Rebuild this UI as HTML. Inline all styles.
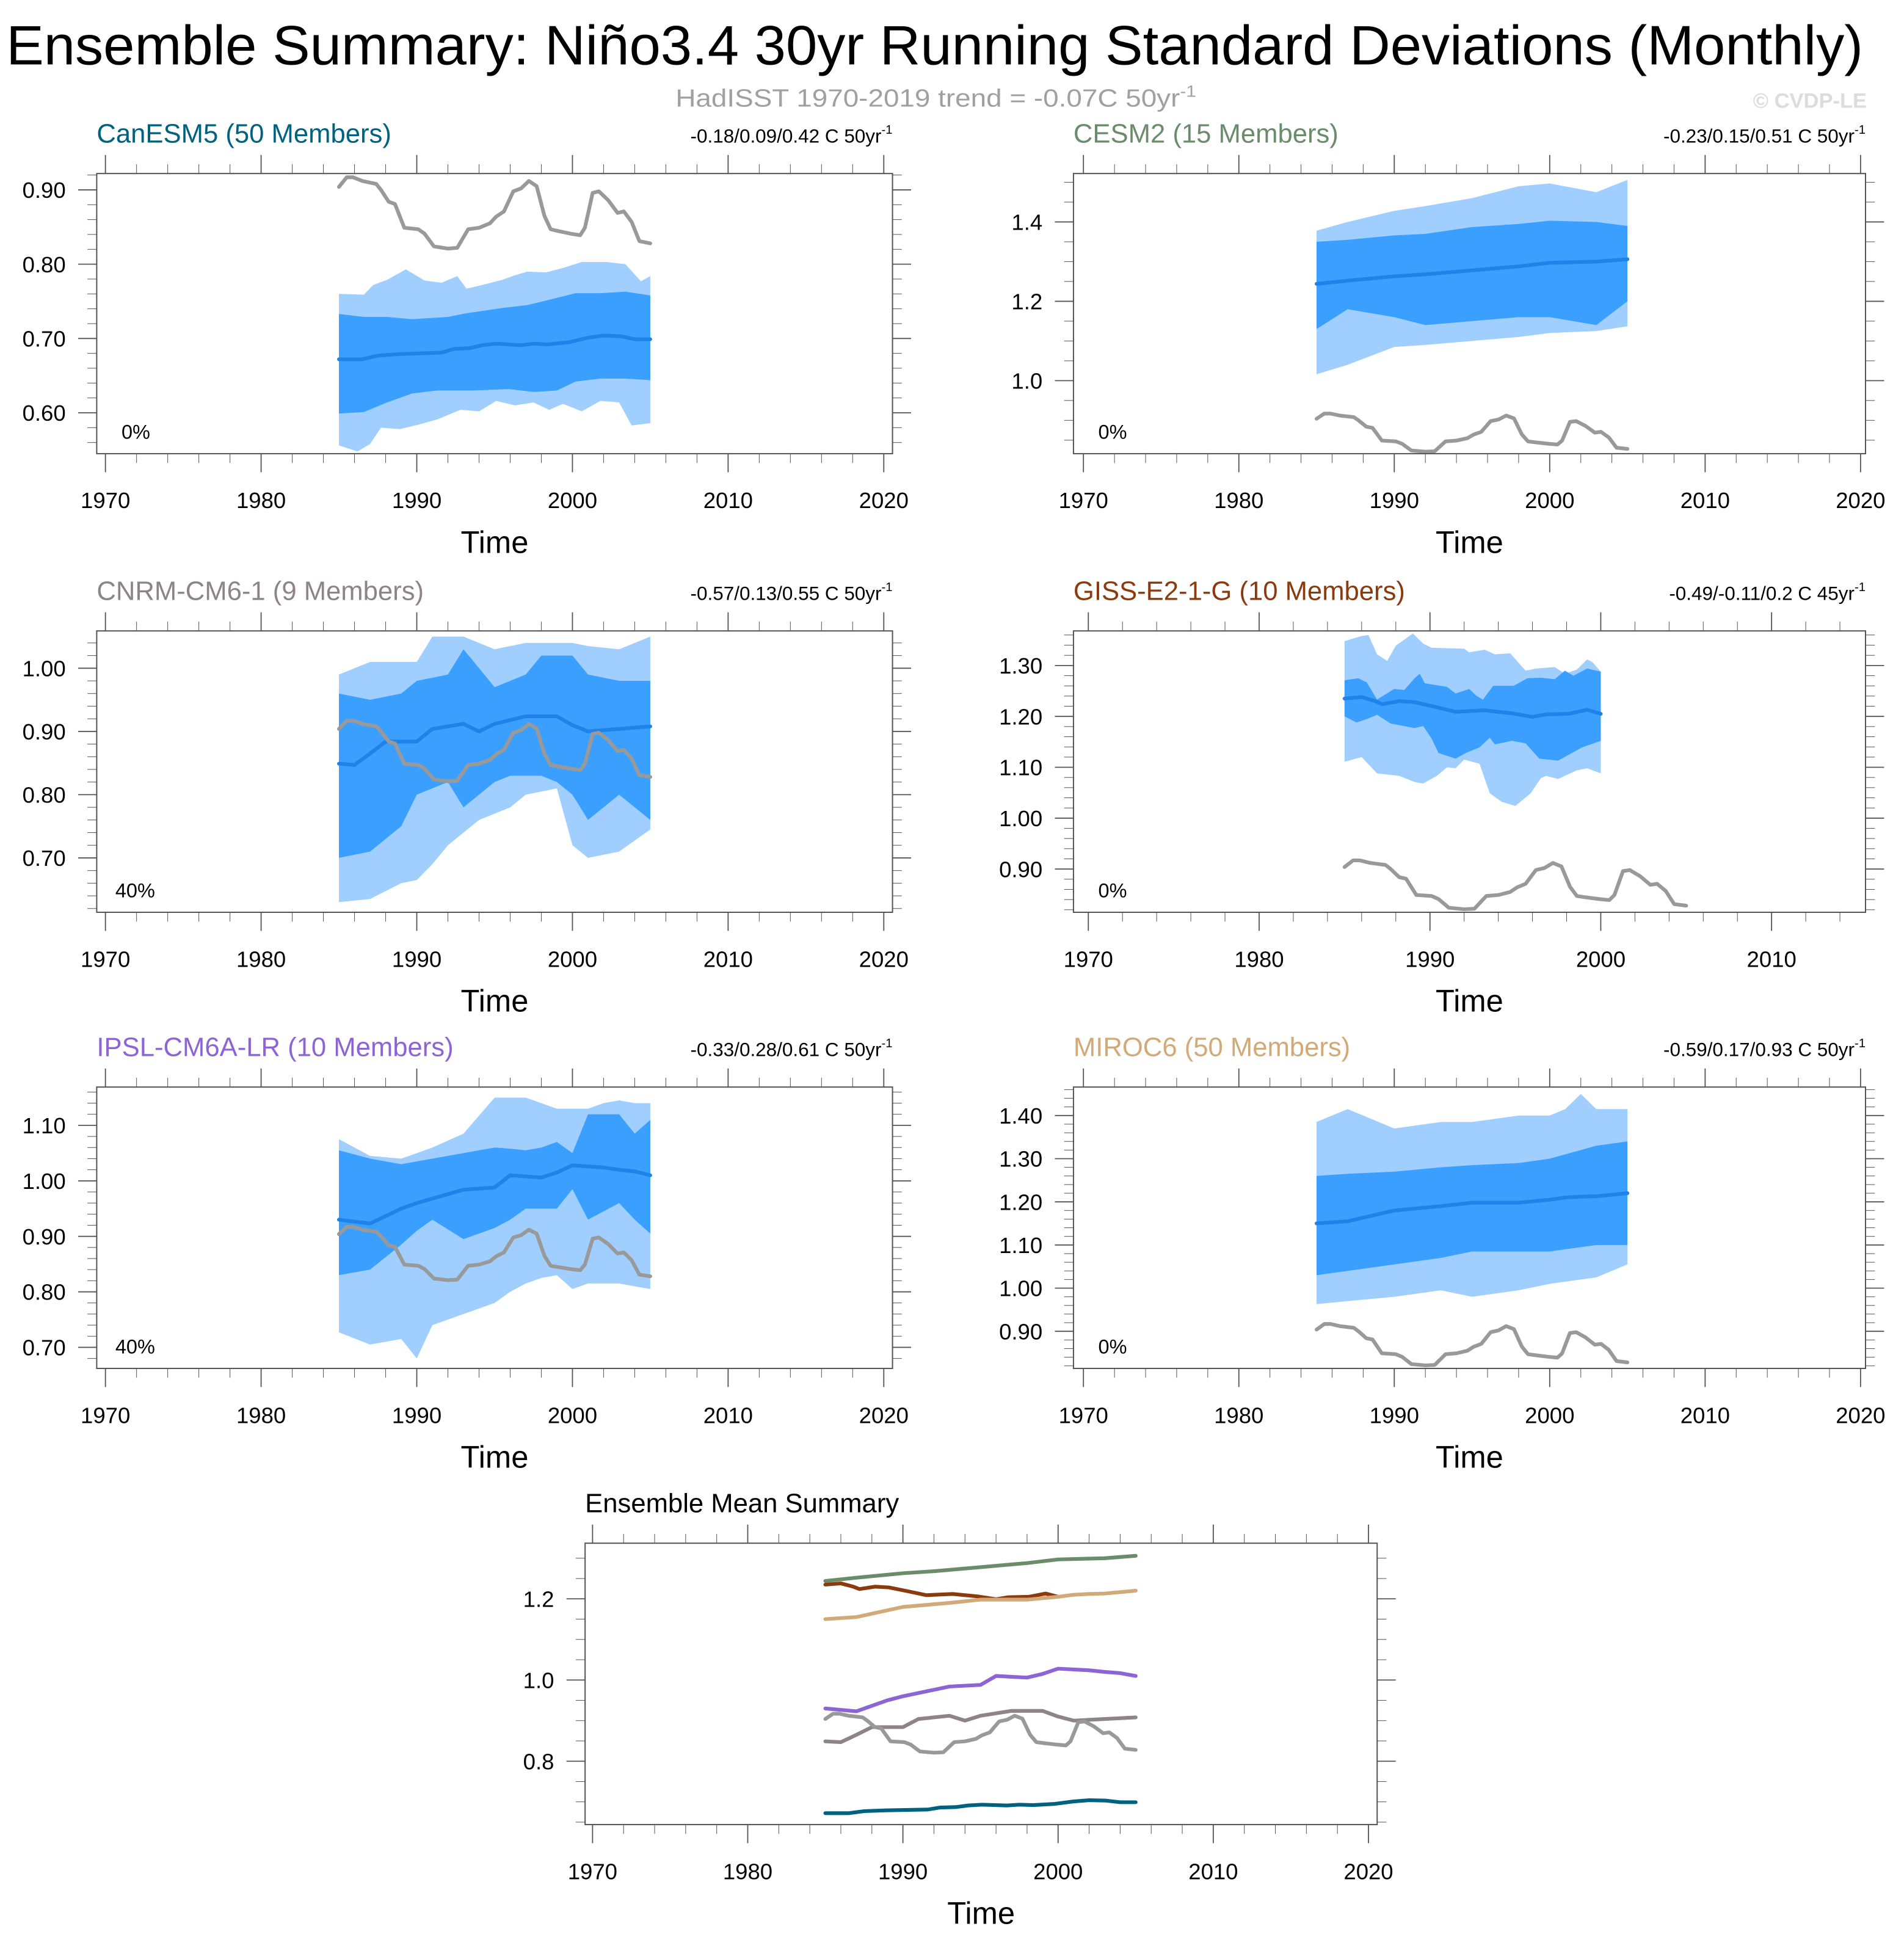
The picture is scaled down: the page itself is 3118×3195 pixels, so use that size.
<!DOCTYPE html>
<html><head><meta charset="utf-8"><title>Ensemble Summary</title>
<style>html,body{margin:0;padding:0;background:#fff}svg{display:block}text{font-family:"Liberation Sans",sans-serif}</style>
</head><body>
<svg id="fig" xmlns="http://www.w3.org/2000/svg" width="3118" height="3195" viewBox="0 0 1536 1574">
<text x="5" y="52" font-size="45" textLength="1498" lengthAdjust="spacingAndGlyphs">Ensemble Summary: Niño3.4 30yr Running Standard Deviations (Monthly)</text>
<text x="545" y="86" font-size="20" fill="#a0a0a0" textLength="420" lengthAdjust="spacingAndGlyphs">HadISST 1970-2019 trend = -0.07C 50yr<tspan dy="-8" font-size="13">-1</tspan></text>
<text x="1506" y="87" font-size="17" fill="#dcdcdc" font-weight="bold" text-anchor="end">© CVDP-LE</text>
</svg>
<script>
// ---------- data ----------
const obsYears=[1985,1985.5,1985.9,1986.5,1987.4,1987.7,1988.2,1988.6,1989.2,1990.1,1990.5,1991.1,1992.0,1992.6,1993.3,1994.0,1994.7,1995.1,1995.6,1996.2,1996.7,1997.2,1997.7,1998.2,1998.6,1999.0,1999.9,2000.5,2000.8,2001.3,2001.7,2002.3,2002.9,2003.3,2003.8,2004.3,2005.0];
const obsValues=[0.904,0.917,0.917,0.912,0.908,0.900,0.884,0.881,0.849,0.847,0.841,0.824,0.821,0.822,0.847,0.849,0.855,0.864,0.871,0.898,0.902,0.912,0.905,0.865,0.847,0.845,0.841,0.839,0.849,0.896,0.898,0.886,0.869,0.871,0.857,0.831,0.828];

// CanESM5
const canMeanYears=[1985,1986.5,1987.5,1988.9,1991.6,1992.4,1993.4,1994.2,1995.1,1996.7,1997.5,1998.4,1999.8,2001,2002,2003.1,2004,2005];
const canMean=[0.672,0.672,0.677,0.679,0.681,0.686,0.687,0.691,0.693,0.691,0.693,0.692,0.695,0.701,0.704,0.703,0.699,0.699];
const canDarkUpYears=[1985,1986.6,1988.1,1989.7,1992,1993.2,1995.5,1997.1,1998.3,2000.2,2001.8,2003.4,2005];
const canDarkUp=[0.733,0.729,0.729,0.726,0.729,0.734,0.741,0.745,0.751,0.761,0.761,0.763,0.758];
const canDarkLoYears=[1985,1986.6,1988.1,1989.7,1991.3,1993.6,1995.9,1997.5,1999,2000.2,2001.8,2003.4,2005];
const canDarkLo=[0.599,0.601,0.614,0.626,0.630,0.630,0.632,0.628,0.630,0.642,0.646,0.646,0.644];
const canLightUpYears=[1985,1986.6,1987.2,1988.1,1989.3,1990.5,1991.6,1992.6,1993.2,1994.4,1995.5,1996.3,1997.1,1998.3,1999.4,2000.6,2002.2,2003.4,2004.4,2005];
const canLightUp=[0.760,0.759,0.772,0.779,0.793,0.778,0.775,0.784,0.767,0.773,0.779,0.785,0.790,0.789,0.795,0.803,0.803,0.800,0.777,0.784];
const canLightLoYears=[1985,1986.2,1987,1987.7,1988.9,1990.1,1991.3,1992.8,1994,1995.1,1996.3,1997.5,1998.5,1999.4,2000.6,2001.8,2003,2003.8,2005];
const canLightLo=[0.556,0.548,0.558,0.580,0.578,0.584,0.591,0.604,0.602,0.616,0.610,0.614,0.604,0.612,0.602,0.616,0.614,0.583,0.586];

// CESM2
const cesmYears=[1985,1987,1990,1992,1995,1998,2000,2003,2005];
const cesmMean=[1.244,1.252,1.263,1.268,1.278,1.288,1.297,1.300,1.306];
const cesmDarkUp=[1.35,1.355,1.366,1.37,1.387,1.395,1.403,1.40,1.39];
const cesmDarkLo=[1.13,1.18,1.16,1.14,1.15,1.16,1.16,1.14,1.20];
const cesmLightUp=[1.378,1.40,1.428,1.44,1.46,1.49,1.497,1.475,1.506];
const cesmLightLo=[1.016,1.04,1.085,1.09,1.10,1.11,1.12,1.125,1.137];

// CNRM-CM6-1
const cnrmMeanYears=[1985,1986,1987,1988,1990,1991,1993,1994,1995,1997,1999,2000,2001,2005];
const cnrmMean=[0.849,0.847,0.865,0.884,0.884,0.904,0.912,0.900,0.912,0.924,0.924,0.910,0.900,0.908];
const cnrmBandYears=[1985,1987,1989,1990,1991,1992,1993,1994,1995,1996,1997,1998,1999,2000,2001,2003,2005];
const cnrmDarkUp=[0.96,0.95,0.96,0.98,0.985,0.99,1.03,1.0,0.97,0.98,0.99,1.02,1.02,1.02,0.99,0.98,0.98];
const cnrmDarkLo=[0.70,0.71,0.75,0.80,0.81,0.82,0.78,0.80,0.82,0.83,0.83,0.83,0.82,0.80,0.76,0.80,0.76];
const cnrmLightUp=[0.99,1.01,1.01,1.01,1.05,1.05,1.05,1.04,1.03,1.035,1.04,1.04,1.04,1.04,1.035,1.03,1.05];
const cnrmLightLo=[0.63,0.635,0.66,0.665,0.69,0.72,0.74,0.76,0.77,0.78,0.80,0.805,0.81,0.72,0.70,0.71,0.745];

// GISS-E2-1-G
const gissLightUpYears=[1985,1986,1986.4,1986.9,1987.5,1988,1989,1989.6,1990.1,1992,1992.3,1993.2,1993.8,1994.7,1995.3,1995.6,1996.2,1997.3,1997.9,1998.6,1999.2,1999.5,2000];
const gissLightUp=[1.348,1.358,1.36,1.322,1.309,1.339,1.363,1.343,1.335,1.333,1.326,1.331,1.322,1.324,1.301,1.29,1.294,1.297,1.284,1.292,1.312,1.307,1.288];
const gissDarkUpYears=[1985,1985.8,1986.3,1986.9,1987.9,1988.5,1989.1,1989.4,1989.7,1991,1991.5,1992.3,1992.7,1993.1,1993.7,1994.2,1994.9,1995.7,1996.5,1997.3,1997.9,1998.4,1999.2,2000];
const gissDarkUp=[1.271,1.275,1.267,1.233,1.254,1.252,1.275,1.284,1.265,1.258,1.245,1.254,1.241,1.233,1.26,1.26,1.26,1.275,1.276,1.273,1.29,1.28,1.294,1.288];
const gissMeanYears=[1985,1986,1986.8,1987.2,1988.2,1989.1,1990.4,1991.5,1993.2,1994.8,1996,1996.8,1998.1,1999.2,2000];
const gissMean=[1.235,1.238,1.23,1.224,1.23,1.228,1.218,1.209,1.212,1.206,1.199,1.204,1.205,1.213,1.205];
const gissDarkLoYears=[1985,1985.7,1986.4,1986.9,1987.7,1988,1989.1,1989.6,1990.1,1990.5,1991.5,1992.1,1992.9,1993.5,1993.8,1994.8,1995.6,1996.4,1997.5,1998.2,1998.9,2000];
const gissDarkLo=[1.2,1.188,1.196,1.203,1.186,1.184,1.177,1.181,1.156,1.128,1.117,1.128,1.139,1.158,1.145,1.152,1.147,1.117,1.113,1.126,1.139,1.152];
const gissLightLoYears=[1985,1986,1986.9,1988.2,1989.1,1989.6,1990.4,1991,1991.5,1992,1992.9,1993.5,1994.2,1995,1995.9,1996.5,1996.8,1997.5,1998.6,1999.2,2000];
const gissLightLo=[1.111,1.12,1.088,1.083,1.071,1.068,1.083,1.1,1.098,1.115,1.107,1.049,1.032,1.024,1.049,1.079,1.083,1.077,1.094,1.098,1.088];

// IPSL-CM6A-LR
const ipslYears=[1985,1987,1989,1990,1991,1993,1995,1996,1997,1998,1999,2000,2001,2002,2003,2004,2005];
const ipslMean=[0.93,0.923,0.95,0.96,0.968,0.984,0.988,1.01,1.008,1.006,1.015,1.028,1.026,1.024,1.02,1.017,1.01];
const ipslDarkUp=[1.055,1.04,1.03,1.035,1.04,1.05,1.06,1.058,1.055,1.06,1.07,1.05,1.12,1.12,1.12,1.085,1.11];
const ipslDarkLo=[0.83,0.84,0.885,0.91,0.93,0.895,0.915,0.93,0.95,0.95,0.95,0.985,0.93,0.945,0.96,0.93,0.905];
const ipslLightUp=[1.075,1.045,1.04,1.05,1.06,1.085,1.15,1.15,1.15,1.14,1.13,1.13,1.13,1.14,1.145,1.14,1.14];
const ipslLightLo=[0.727,0.705,0.715,0.68,0.74,0.76,0.78,0.80,0.815,0.825,0.83,0.805,0.815,0.815,0.815,0.81,0.805];

// MIROC6
const mirocYears=[1985,1987,1990,1993,1995,1998,2000,2001,2002,2003,2005];
const mirocMean=[1.15,1.155,1.18,1.19,1.198,1.198,1.205,1.21,1.212,1.213,1.22];
const mirocDarkUp=[1.26,1.265,1.27,1.28,1.285,1.29,1.30,1.31,1.32,1.33,1.34];
const mirocDarkLo=[1.03,1.04,1.055,1.07,1.085,1.085,1.085,1.09,1.095,1.10,1.10];
const mirocLightUp=[1.385,1.415,1.37,1.385,1.385,1.40,1.40,1.415,1.45,1.415,1.415];
const mirocLightLo=[0.963,0.97,0.98,0.995,0.98,0.995,1.01,1.015,1.02,1.025,1.055];

const panelTitles=["CanESM5 (50 Members)","CESM2 (15 Members)","CNRM-CM6-1 (9 Members)","GISS-E2-1-G (10 Members)","IPSL-CM6A-LR (10 Members)","MIROC6 (50 Members)"];
const trendLabels=["-0.18/0.09/0.42 C 50yr","-0.23/0.15/0.51 C 50yr","-0.57/0.13/0.55 C 50yr","-0.49/-0.11/0.2 C 45yr","-0.33/0.28/0.61 C 50yr","-0.59/0.17/0.93 C 50yr"];
const pctLabels=["0%","0%","40%","0%","40%","0%"];
const modelColors=["#00627f","#6b8c6b","#8e8487","#8b3a0e","#8c64d6","#d2aa7a"];
const yTicksMajor=[[0.6,0.7,0.8,0.9],[1.0,1.2,1.4],[0.7,0.8,0.9,1.0],[0.9,1.0,1.1,1.2,1.3],[0.7,0.8,0.9,1.0,1.1],[0.9,1.0,1.1,1.2,1.3,1.4]];
const summaryYTicks=[0.8,1.0,1.2];
const xTickLabels=[1970,1980,1990,2000,2010,2020];

// ---------- drawing ----------
const NS="http://www.w3.org/2000/svg";
const svg=document.getElementById('fig');
function mk(tag,attrs,parent){const e=document.createElementNS(NS,tag);for(const k in attrs)e.setAttribute(k,attrs[k]);(parent||svg).appendChild(e);return e;}

function panel(p){
  const g=mk('g',{});
  
  
  const sx=v=>p.x0+(v-p.xmin)/(p.xmax-p.xmin)*(p.x1-p.x0);
  const sy=v=>p.y1-(v-p.ymin)/(p.ymax-p.ymin)*(p.y1-p.y0);
  const area=(xu,u,xl,l,fill,nm)=>{
    let d='M'+xu.map((x,i)=>sx(x).toFixed(2)+','+sy(u[i]).toFixed(2)).join('L');
    for(let i=xl.length-1;i>=0;i--)d+='L'+sx(xl[i]).toFixed(2)+','+sy(l[i]).toFixed(2);
    const a=mk('path',{d:d+'Z',fill:fill},g);
    
    
  };
  const line=(xs,ys,col,w,nm)=>{
    const l=mk('path',{d:'M'+xs.map((x,i)=>sx(x).toFixed(2)+','+sy(ys[i]).toFixed(2)).join('L'),fill:'none',stroke:col,'stroke-width':w,'stroke-linejoin':'round','stroke-linecap':'round'},g);
    
    
  };
  if(p.bands){
    const b=p.bands;
    area(b.luX,b.lu,b.llX,b.ll,'#a0cfff','minmax-band');
    area(b.duX,b.du,b.dlX,b.dl,'#3a9fff','percentile-band');
  }
  if(p.lines)p.lines.forEach(L=>line(L.x,L.y,L.c,L.w,L.n));
  const fr=mk('rect',{x:p.x0,y:p.y0,width:p.x1-p.x0,height:p.y1-p.y0,fill:'none',stroke:'#555','stroke-width':1},g);
  
  
  for(let yr=1970;yr<=p.xmax;yr+=2){
    const X=sx(yr);const maj=(yr%10===0);const L=maj?15:7.5;
    mk('line',{x1:X,x2:X,y1:p.y0,y2:p.y0-L,stroke:'#555','stroke-width':maj?0.9:0.5},g);
    mk('line',{x1:X,x2:X,y1:p.y1,y2:p.y1+L,stroke:'#555','stroke-width':maj?0.9:0.5},g);
  }
  xTickLabels.forEach(yr=>{if(yr>p.xmax)return;
    const t=mk('text',{x:sx(yr),y:p.y1+44,'font-size':18,'text-anchor':'middle'},g);t.textContent=yr;
    
    });
  const minor=p.minor;
  for(let v=Math.ceil(p.ymin/minor-1e-6)*minor;v<=p.ymax+1e-9;v+=minor){
    const Y=sy(v);const maj=p.yMaj.some(m=>Math.abs(m-v)<1e-6);const L=maj?15:7.5;
    mk('line',{x1:p.x0,x2:p.x0-L,y1:Y,y2:Y,stroke:'#555','stroke-width':maj?0.9:0.5},g);
    mk('line',{x1:p.x1,x2:p.x1+L,y1:Y,y2:Y,stroke:'#555','stroke-width':maj?0.9:0.5},g);
  }
  p.yMaj.forEach(v=>{const t=mk('text',{x:p.x0-25,y:sy(v)+6.5,'font-size':18,'text-anchor':'end'},g);t.textContent=v.toFixed(p.dec);
    
    });
  const xt=mk('text',{x:(p.x0+p.x1)/2,y:p.y1+80,'font-size':25,'text-anchor':'middle'},g);xt.textContent='Time';
  
  
  const tt=mk('text',{x:p.x0,y:p.y0-25,'font-size':21.5,fill:p.tcol},g);tt.textContent=p.title;
  
  
  if(p.trend){
    const tr=mk('text',{x:p.x1,y:p.y0-25,'font-size':15.5,'text-anchor':'end'},g);tr.textContent=p.trend;
    const sp=mk('tspan',{dy:-7,'font-size':10},tr);sp.textContent='-1';
    
    
  }
  if(p.pct){
    const pc=mk('text',{x:p.x0+(p.pct.length>2?15:20),y:p.y1-12,'font-size':16},g);pc.textContent=p.pct;
    
    
  }
}

const cols=[{x0:78,x1:720,xmin:1969.44,xmax:2020.56},{x0:866,x1:1505,xmin:1969.36,xmax:2020.32}];
const rows=[{y0:140,y1:366},{y0:509,y1:736},{y0:877,y1:1104}];
const yr=[[0.545,0.922],[0.816,1.522],[0.614,1.059],[0.815,1.368],[0.662,1.169],[0.814,1.466]];
const bandSets=[
 {luX:canLightUpYears,lu:canLightUp,llX:canLightLoYears,ll:canLightLo,duX:canDarkUpYears,du:canDarkUp,dlX:canDarkLoYears,dl:canDarkLo,mX:canMeanYears,m:canMean},
 {luX:cesmYears,lu:cesmLightUp,llX:cesmYears,ll:cesmLightLo,duX:cesmYears,du:cesmDarkUp,dlX:cesmYears,dl:cesmDarkLo,mX:cesmYears,m:cesmMean},
 {luX:cnrmBandYears,lu:cnrmLightUp,llX:cnrmBandYears,ll:cnrmLightLo,duX:cnrmBandYears,du:cnrmDarkUp,dlX:cnrmBandYears,dl:cnrmDarkLo,mX:cnrmMeanYears,m:cnrmMean},
 {luX:gissLightUpYears,lu:gissLightUp,llX:gissLightLoYears,ll:gissLightLo,duX:gissDarkUpYears,du:gissDarkUp,dlX:gissDarkLoYears,dl:gissDarkLo,mX:gissMeanYears,m:gissMean},
 {luX:ipslYears,lu:ipslLightUp,llX:ipslYears,ll:ipslLightLo,duX:ipslYears,du:ipslDarkUp,dlX:ipslYears,dl:ipslDarkLo,mX:ipslYears,m:ipslMean},
 {luX:mirocYears,lu:mirocLightUp,llX:mirocYears,ll:mirocLightLo,duX:mirocYears,du:mirocDarkUp,dlX:mirocYears,dl:mirocDarkLo,mX:mirocYears,m:mirocMean}
];
for(let i=0;i<6;i++){
  const c=cols[i%2],r=rows[Math.floor(i/2)];
  let xmin=c.xmin,xmax=c.xmax;
  if(i===3){xmin=1969.13;xmax=2015.5;}
  const b=bandSets[i];
  panel({name:'panel-'+panelTitles[i].split(' ')[0].toLowerCase(),x0:c.x0,x1:c.x1,y0:r.y0,y1:r.y1,xmin:xmin,xmax:xmax,
    ymin:yr[i][0],ymax:yr[i][1],yMaj:yTicksMajor[i],minor:(i===1?0.05:0.02),dec:(i===1?1:2),
    title:panelTitles[i],tcol:modelColors[i],trend:trendLabels[i],pct:pctLabels[i],bands:b,
    lines:[{x:b.mX,y:b.m,c:'#1e82e8',w:3,n:'ensemble-mean-line'},{x:obsYears,y:obsValues,c:'#999',w:3,n:'observed-line'}]});
}
panel({name:'panel-ensemble-mean-summary',x0:472,x1:1111,y0:1245,y1:1472,xmin:1969.52,xmax:2020.56,ymin:0.644,ymax:1.337,
  yMaj:summaryYTicks,minor:0.05,dec:1,title:'Ensemble Mean Summary',tcol:'#000',trend:null,pct:null,
  lines:[
   {x:canMeanYears,y:canMean,c:modelColors[0],w:3,n:'canesm5-mean-line'},
   {x:cesmYears,y:cesmMean,c:modelColors[1],w:3,n:'cesm2-mean-line'},
   {x:cnrmMeanYears,y:cnrmMean,c:modelColors[2],w:3,n:'cnrm-mean-line'},
   {x:gissMeanYears,y:gissMean,c:modelColors[3],w:3,n:'giss-mean-line'},
   {x:ipslYears,y:ipslMean,c:modelColors[4],w:3,n:'ipsl-mean-line'},
   {x:mirocYears,y:mirocMean,c:modelColors[5],w:3,n:'miroc6-mean-line'},
   {x:obsYears,y:obsValues,c:'#999',w:3,n:'observed-line'}]});
</script>
</body></html>
